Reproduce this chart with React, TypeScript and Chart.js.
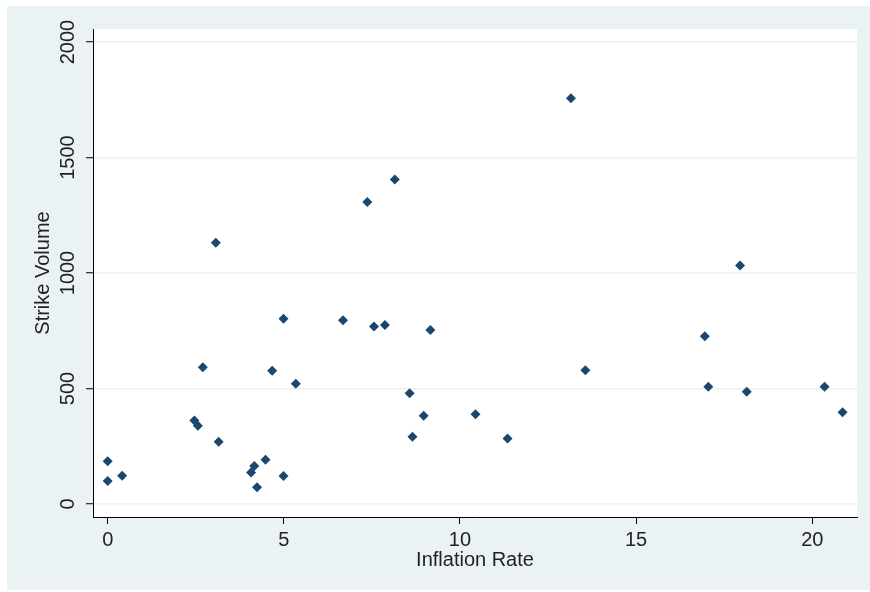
import React, { useEffect, useRef } from 'react';
import { Chart, registerables } from 'chart.js';

Chart.register(...registerables);

const inflationRate = [0, 0, 0.41, 2.46, 2.56, 2.7, 3.07, 3.15, 4.07, 4.16, 4.24, 4.48, 4.67, 4.99, 4.99, 5.34, 6.68, 7.37, 7.56, 7.87, 8.15, 8.57, 8.65, 8.97, 9.16, 10.44, 11.35, 13.15, 13.56, 16.95, 17.05, 17.95, 18.14, 20.35, 20.86];
const strikeVolume = [185, 100, 122, 361, 339, 592, 1131, 270, 136, 164, 72, 192, 577, 121, 802, 521, 795, 1307, 768, 775, 1405, 479, 291, 382, 753, 388, 283, 1756, 579, 726, 508, 1033, 486, 508, 397];
const xTicks = [0, 5, 10, 15, 20];
const yTicks = [0, 500, 1000, 1500, 2000];
const xTitle = 'Inflation Rate';
const yTitle = 'Strike Volume';

const BG = '#eaf2f3';
const NAVY = '#1a476f';
const TEXT = '#222';
const FONT = { family: '"Liberation Sans", Arial, sans-serif', size: 20 };

const bgPlugin = {
  id: 'stataBg',
  beforeDraw(chart: any) {
    const { ctx, chartArea: a } = chart;
    ctx.save();
    ctx.fillStyle = '#ffffff';
    ctx.fillRect(0, 0, chart.width, chart.height);
    ctx.fillStyle = BG;
    ctx.fillRect(7, 6, chart.width - 7, 584);
    ctx.fillStyle = '#ffffff';
    ctx.fillRect(a.left, a.top, a.right - a.left, a.bottom - a.top);
    ctx.restore();
  },
};

export default function App() {
  const ref = useRef<HTMLCanvasElement | null>(null);
  useEffect(() => {
    if (!ref.current) return;
    const points = inflationRate.map((x, i) => ({ x, y: strikeVolume[i] }));
    const chart = new Chart(ref.current, {
      type: 'scatter',
      data: {
        datasets: [
          {
            data: points,
            pointStyle: 'rectRot',
            pointRadius: 5,
            pointBorderWidth: 0,
            backgroundColor: NAVY,
            borderColor: NAVY,
          },
        ],
      },
      plugins: [bgPlugin],
      options: {
        responsive: false,
        animation: false,
        devicePixelRatio: 1,
        layout: { padding: { left: 0, top: 29, right: 13, bottom: 0 } },
        plugins: { legend: { display: false }, tooltip: { enabled: false } },
        scales: {
          x: {
            type: 'linear',
            min: -0.417,
            max: 21.27,
            afterFit: (s: any) => { s.height = 75; },
            afterBuildTicks: (s: any) => { s.ticks = xTicks.map((v) => ({ value: v })); },
            grid: { drawOnChartArea: false, drawTicks: true, tickLength: 7, tickColor: '#000', tickWidth: 1 },
            border: { display: true, color: '#000', width: 1 },
            ticks: { font: FONT, color: TEXT, padding: 4.5, autoSkip: false, maxRotation: 0, minRotation: 0, callback: (v: any) => String(v) },
            title: { display: true, text: xTitle, font: FONT, color: TEXT, padding: { top: 0, bottom: 20 } },
          },
          y: {
            type: 'linear',
            min: -56.3,
            max: 2056.3,
            afterFit: (s: any) => { s.width = 93; },
            afterBuildTicks: (s: any) => { s.ticks = yTicks.map((v) => ({ value: v })); },
            grid: { color: BG, lineWidth: 1.5, drawTicks: true, tickLength: 7, tickColor: '#000', tickWidth: 1 },
            border: { display: true, color: '#000', width: 1 },
            ticks: { font: FONT, color: TEXT, padding: -4.5, autoSkip: false, minRotation: 90, maxRotation: 90, crossAlign: 'center', callback: (v: any) => String(v) },
            title: { display: true, text: yTitle, font: FONT, color: TEXT, padding: { top: 31.5, bottom: 0 } },
          },
        },
      },
    } as any);
    return () => chart.destroy();
  }, []);
  return (
    <div style={{ position: 'fixed', left: 0, top: 0, width: 870, height: 592, background: '#fff' }}>
      <canvas ref={ref} width={870} height={592} style={{ display: 'block', width: 870, height: 592 }} />
    </div>
  );
}
